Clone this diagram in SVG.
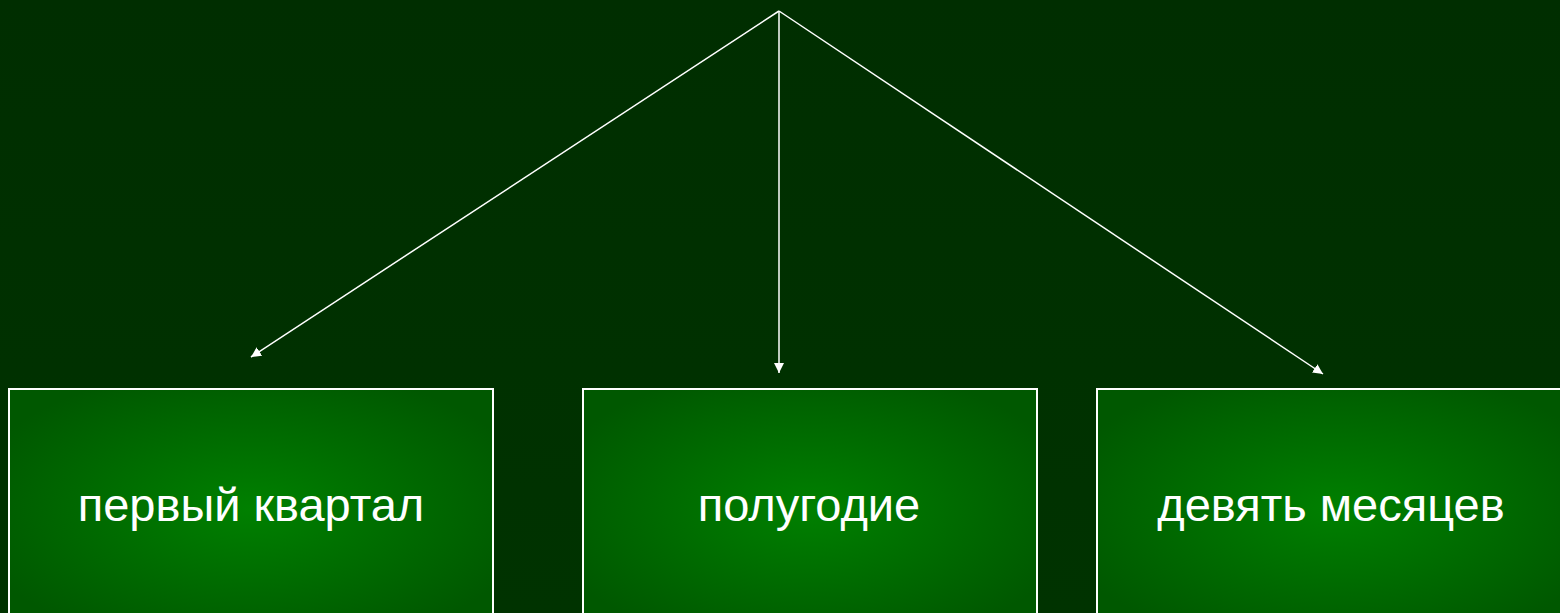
<svg xmlns="http://www.w3.org/2000/svg" width="1560" height="613" viewBox="0 0 1560 613">
<defs>
<linearGradient id="bg" x1="0" y1="0" x2="0" y2="1">
<stop offset="0" stop-color="#002e00"/>
<stop offset="1" stop-color="#003300"/>
</linearGradient>
<radialGradient id="box" cx="0.5" cy="0.5" r="0.6">
<stop offset="0" stop-color="#008000"/>
<stop offset="1" stop-color="#005800"/>
</radialGradient>
<marker id="arr" viewBox="0 0 10 10" refX="10" refY="5" markerWidth="10" markerHeight="10" markerUnits="userSpaceOnUse" orient="auto">
<path d="M0,0 L10,5 L0,10 z" fill="#ffffff"/>
</marker>
<style>
.node rect{fill:url(#box);stroke:#ffffff;stroke-width:2}
.node text{font-family:"Liberation Sans",Arial,sans-serif;font-size:47px;fill:#ffffff;text-anchor:middle}
.conn line{stroke:#ffffff;stroke-width:1.5;marker-end:url(#arr)}
</style>
</defs>
<rect width="1560" height="613" fill="url(#bg)"/>
<g id="connectors" class="conn">
<line x1="779" y1="11" x2="251" y2="357"/>
<line x1="779" y1="11" x2="779" y2="373"/>
<line x1="779" y1="11" x2="1323" y2="374"/>
</g>
<g id="node1" class="node">
<rect x="9" y="389" width="484" height="240"/>
<text x="251" y="521">первый квартал</text>
</g>
<g id="node2" class="node">
<rect x="583" y="389" width="454" height="240"/>
<text x="809" y="521">полугодие</text>
</g>
<g id="node3" class="node">
<rect x="1097" y="389" width="480" height="240"/>
<text x="1331" y="521">девять месяцев</text>
</g>
</svg>
